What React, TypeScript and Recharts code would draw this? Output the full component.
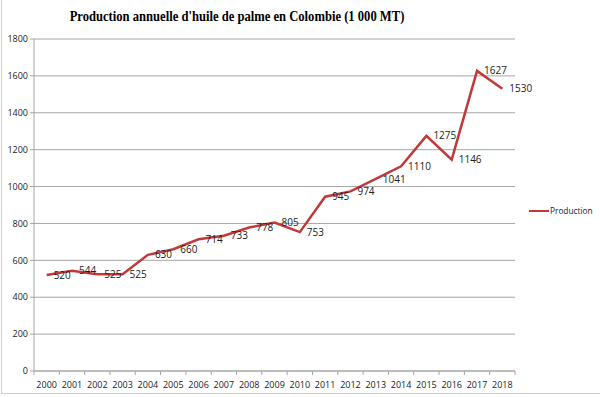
import { CartesianGrid, LabelList, Legend, Line, LineChart, XAxis, YAxis } from "recharts";

const YEARS = [
  "2000", "2001", "2002", "2003", "2004", "2005", "2006", "2007", "2008", "2009",
  "2010", "2011", "2012", "2013", "2014", "2015", "2016", "2017", "2018",
];
const PRODUCTION = [
  520, 544, 525, 525, 630, 660, 714, 733, 778, 805, 753, 945, 974, 1041, 1110, 1275, 1146, 1627, 1530,
];
const Y_TICKS = [0, 200, 400, 600, 800, 1000, 1200, 1400, 1600, 1800];

const data = YEARS.map((year, i) => ({ year, production: PRODUCTION[i] }));

const W = 600;
const H = 397;
const MARGIN = { top: 39, right: 85, bottom: 6, left: 0 };
const Y_AXIS_W = 34;
const X_AXIS_H = 20;
const PLOT_W = W - MARGIN.left - MARGIN.right - Y_AXIS_W;
const BAND = PLOT_W / YEARS.length;

const LINE_COLOR = "#c0393b";
const GRID_COLOR = "#a6a6a6";
const FONT = "'Open Sans', 'DejaVu Sans', sans-serif";

// Excel-style category axis: tick marks sit between categories
function YearTick(props: any) {
  const { x, y, payload, index } = props;
  const left = x - BAND / 2;
  return (
    <g>
      <line x1={left} x2={left} y1={y - 8} y2={y - 4} stroke={GRID_COLOR} />
      {index === YEARS.length - 1 ? (
        <line x1={x + BAND / 2} x2={x + BAND / 2} y1={y - 8} y2={y - 4} stroke={GRID_COLOR} />
      ) : null}
      <text x={x} y={y + 9} textAnchor="middle" fontSize={9} fill="#222" fontFamily={FONT}>
        {payload.value}
      </text>
    </g>
  );
}

function LegendBox() {
  return (
    <div style={{ display: "flex", alignItems: "center", fontFamily: FONT, fontSize: 8.3, color: "#222" }}>
      <span style={{ display: "inline-block", width: 20, height: 2, background: LINE_COLOR, marginRight: 1 }} />
      Production
    </div>
  );
}

export default function App() {
  return (
    <div
      style={{
        position: "absolute",
        left: 0,
        top: 0,
        width: W,
        height: H,
        background: "#fff",
      }}
    >
      <div
        style={{
          position: "absolute",
          left: 1,
          top: 0,
          width: W - 1,
          height: 394,
          borderLeft: "1px solid #cfcfcf",
          borderBottom: "1px solid #cfcfcf",
          boxSizing: "border-box",
        }}
      />
      <div
        style={{
          position: "absolute",
          left: 0,
          top: 9,
          width: 474,
          textAlign: "center",
          fontFamily: "'Liberation Serif', 'DejaVu Serif', serif",
          fontWeight: "bold",
          fontSize: 14,
          color: "#000",
          transform: "scaleX(0.9)",
          transformOrigin: "237px 0",
        }}
      >
        Production annuelle d'huile de palme en Colombie (1 000 MT)
      </div>
      <LineChart width={W} height={H} data={data} margin={MARGIN} style={{ position: "absolute", left: 0, top: 0 }}>
        <CartesianGrid vertical={false} stroke={GRID_COLOR} strokeWidth={1} />
        <XAxis
          dataKey="year"
          height={X_AXIS_H}
          axisLine={{ stroke: GRID_COLOR }}
          tickLine={false}
          tick={<YearTick />}
          interval={0}
          padding={{ left: BAND / 2, right: BAND / 2 }}
        />
        <YAxis
          width={Y_AXIS_W}
          domain={[0, 1800]}
          ticks={Y_TICKS}
          axisLine={{ stroke: GRID_COLOR }}
          tickLine={{ stroke: GRID_COLOR }}
          tickSize={4}
          tick={{ fontSize: 9, fill: "#222", fontFamily: FONT }}
        />
        <Legend
          layout="vertical"
          align="center"
          verticalAlign="middle"
          content={<LegendBox />}
          wrapperStyle={{ left: 529, top: 205, width: 70 }}
        />
        <Line
          type="linear"
          dataKey="production"
          name="Production"
          stroke={LINE_COLOR}
          strokeWidth={2.5}
          dot={false}
          activeDot={false}
          isAnimationActive={false}
        >
          <LabelList dataKey="production" position="right" offset={7} fontSize={10} fill="#222" fontFamily={FONT} />
        </Line>
      </LineChart>
    </div>
  );
}
